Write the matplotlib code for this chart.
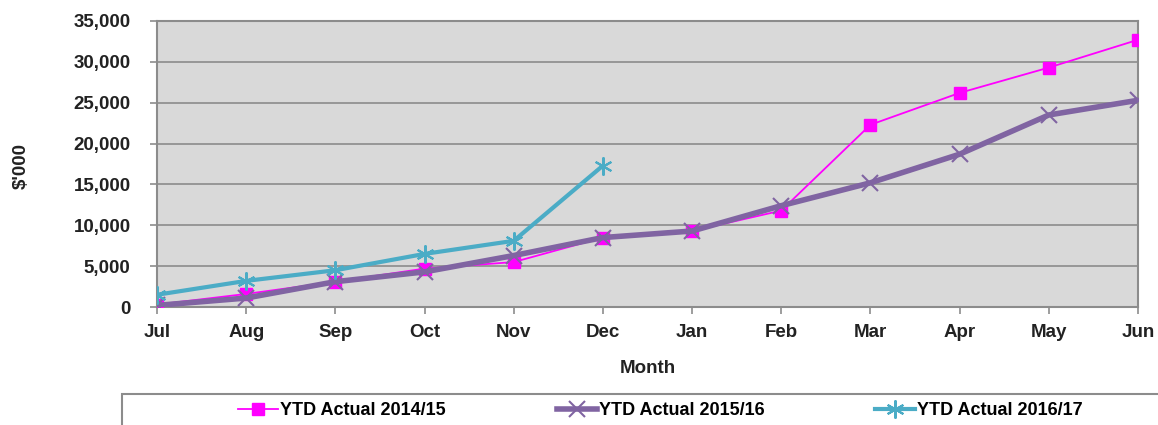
import matplotlib.pyplot as plt
from matplotlib.patches import Rectangle
from matplotlib.lines import Line2D
from matplotlib.ticker import FuncFormatter

plt.rcParams['font.family'] = ['Liberation Sans', 'DejaVu Sans']

# data ($'000)
months = ['Jul', 'Aug', 'Sep', 'Oct', 'Nov', 'Dec', 'Jan', 'Feb', 'Mar', 'Apr', 'May', 'Jun']
ytd_1415 = [300, 1600, 3100, 4700, 5500, 8500, 9300, 11800, 22300, 26200, 29300, 32700]
ytd_1516 = [200, 1100, 3100, 4300, 6300, 8500, 9300, 12400, 15200, 18700, 23500, 25300]
ytd_1617 = [1500, 3200, 4500, 6500, 8100, 17300]
labels = ['YTD Actual 2014/15', 'YTD Actual 2015/16', 'YTD Actual 2016/17']

c_mag = '#ff00ff'
c_pur = '#8064a2'
c_cyan = '#4bacc6'

fig = plt.figure(figsize=(11.58, 4.25), dpi=100)
ax = fig.add_axes([0.1356, 0.2776, 0.8471, 0.673])
ax.set_facecolor('#d9d9d9')

x = list(range(len(months)))
ax.plot(x, ytd_1415, color=c_mag, lw=1.3, marker='s', ms=9, zorder=3)
ax.plot(x, ytd_1516, color=c_pur, lw=4, marker='x', ms=11, mew=1.5, zorder=4)
ax.plot(x[:len(ytd_1617)], ytd_1617, color=c_cyan, lw=3, marker=(6, 2, 0), ms=13, mew=1.5, zorder=5)

ax.set_xlim(0, 11)
ax.set_ylim(0, 35000)
ax.set_yticks(range(0, 35001, 5000))
ax.yaxis.set_major_formatter(FuncFormatter(lambda v, p: f'{int(v):,}'))
ax.set_xticks(x)
ax.set_xticklabels(months)
ax.grid(axis='y', color='#8c8c8c', lw=1.2)
ax.set_axisbelow(True)
for s in ax.spines.values():
    s.set_color('#8c8c8c')
    s.set_linewidth(1.5)
ax.tick_params(colors='#8c8c8c', labelcolor='#222222', length=5, width=1.2, labelsize=13.5)
for t in ax.get_xticklabels() + ax.get_yticklabels():
    t.set_fontweight('bold')
ax.tick_params(axis='x', pad=7)
ax.tick_params(axis='y', pad=14)

ax.set_xlabel('Month', fontsize=13.5, fontweight='bold', color='#222222', labelpad=14)
fig.text(0.018, 0.61, "$'000", rotation=90, fontsize=13.5, fontweight='bold',
         color='#222222', ha='center', va='center')

# legend box running off the figure edge
fig.patches.append(Rectangle((122 / 1158, -0.05), 1.1, 0.122, transform=fig.transFigure,
                             facecolor='white', edgecolor='#8c8c8c', lw=1.5))
handles = [
    Line2D([], [], color=c_mag, lw=1.3, marker='s', ms=9),
    Line2D([], [], color=c_pur, lw=4, marker='x', ms=11, mew=1.5),
    Line2D([], [], color=c_cyan, lw=3, marker=(6, 2, 0), ms=13, mew=1.5),
]
entry_x = [238, 557, 875]
for h, lab, ex in zip(handles, labels, entry_x):
    fig.legend([h], [lab], loc='center left', bbox_to_anchor=(ex / 1158, 0.033),
               frameon=False, handlelength=2.2, handletextpad=0.1, borderpad=0,
               borderaxespad=0, prop={'weight': 'bold', 'size': 13})

fig.savefig('out.png', dpi=100)
